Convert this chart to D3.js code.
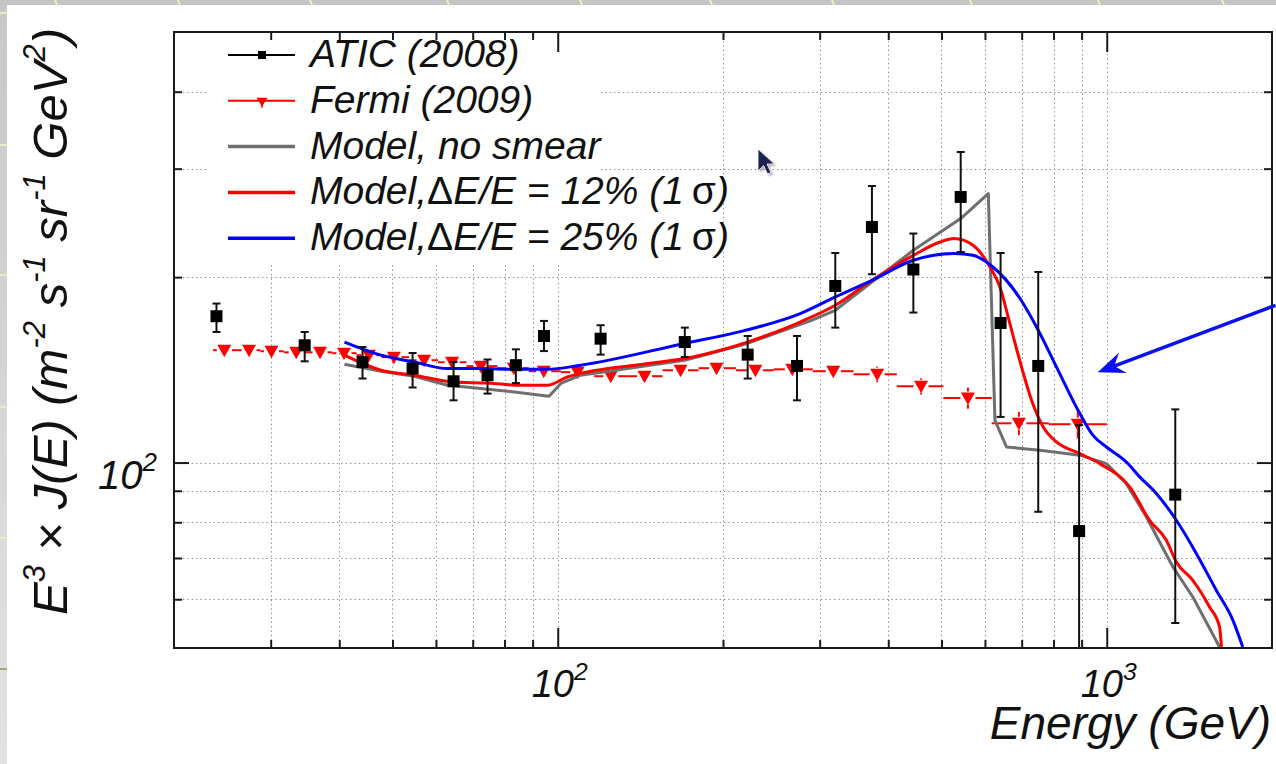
<!DOCTYPE html>
<html>
<head>
<meta charset="utf-8">
<script src="https://cdn.jsdelivr.net/npm/d3@7"></script>
<style>
  html, body { margin: 0; padding: 0; background: #c6c6c6; }
  svg { display: block; }
  text { font-family: "Liberation Sans", Arial, Helvetica, sans-serif; font-style: italic; fill: #111; }
</style>
</head>
<body>
<svg id="chart" width="1276" height="764"></svg>
<script>
// ATIC (2008): energy (GeV), E^3 J(E), error band low / high
var aticE  = [23.9, 34.6, 44.1, 54.4, 64.6, 74.5, 83.9, 94.4, 119.7, 170.4, 221.8, 272.8, 320.3, 373.5, 444.4, 542.0, 640.7, 750.3, 890.6, 1333];
var aticF  = [172.8, 155.0, 145.6, 142.1, 135.5, 138.6, 143.9, 160.5, 158.9, 156.9, 149.7, 143.5, 193.5, 241.2, 205.8, 269.9, 168.5, 143.5, 77.4, 88.7];
var aticHi = [181.2, 162.9, 154.0, 150.6, 145.6, 147.0, 152.7, 169.8, 167.1, 165.6, 160.5, 160.5, 218.9, 281.2, 235.4, 319.3, 218.9, 203.9, 115.0, 122.0];
var aticLo = [162.9, 146.0, 136.9, 132.4, 126.2, 129.4, 134.6, 151.7, 149.7, 148.4, 136.9, 126.2, 165.6, 202.2, 175.2, 219.7, 118.6, 83.2, 30.0, 54.9];

// Fermi (2009): bin centres, values, bin edges, errors
var fermiE = [24.7, 27.4, 30.1, 33.4, 36.9, 40.8, 45.3, 50.3, 57.1, 64.2, 72.4, 83.2, 94.3, 108.7, 124.9, 143.9, 167.4, 194.6, 229.1, 267.5, 317.6, 381.8, 459.0, 558.7, 691.8, 885.7];
var fermiF = [152.2, 152.2, 151.6, 151.0, 151.0, 150.5, 149.4, 148.3, 146.6, 145.5, 143.4, 142.3, 140.7, 140.2, 138.1, 138.1, 141.2, 142.3, 141.2, 141.7, 140.7, 139.1, 133.0, 127.3, 115.8, 115.4];
var fermiEdges = [23.56, 26.03, 28.73, 31.70, 35.12, 38.83, 43.01, 47.76, 53.60, 60.51, 68.18, 77.62, 88.57, 101.3, 116.5, 134.1, 155.2, 180.5, 211.1, 247.5, 291.4, 345.8, 414.6, 503.9, 617.1, 784.6, 1000];
var fermiErr = [2, 2, 2, 2, 2, 2, 2, 2, 2, 2, 2, 2, 2, 2, 2, 2, 2, 2, 2, 3, 3, 4, 4, 5, 5, 6];

// model curves
var noSmearE = [40.88, 47.67, 54.73, 63.03, 72.44, 83.27, 96.43, 101.3, 110.1, 170.2, 221.5, 288.4, 320.3, 373.5, 444.4, 542.0, 608.5, 625.7, 656.9, 755.6, 893.3, 998.9, 1086, 1181, 1320, 1435, 1605];
var noSmearF = [144.4, 140.7, 138.1, 133.5, 131.9, 130.2, 128.1, 134.4, 138.6, 146.6, 156.1, 169.8, 176.7, 196.4, 221.1, 248.9, 273.3, 117.1, 106.0, 104.7, 102.8, 99.6, 92.4, 81.6, 67.7, 60.5, 50.2];
var smear12E = [40.88, 47.67, 54.79, 64.6, 74.5, 85.66, 95.79, 104.1, 110.1, 147.6, 170.2, 197.9, 221.5, 276.5, 320.3, 373.5, 444.4, 497.0, 527.0, 570.6, 612.8, 638.9, 666.1, 699.6, 729.6, 766.1, 810.1, 893.3, 971.2, 1101, 1197, 1284, 1339, 1435, 1539, 1605, 1618];
var smear12F = [149.4, 141.2, 138.6, 135.1, 134.6, 133.5, 133.5, 137.7, 139.5, 144.9, 147.5, 152.2, 156.9, 169.1, 180.0, 197.6, 217.0, 228.1, 231.0, 225.3, 207.7, 192.8, 168.1, 142.9, 126.2, 114.2, 108.0, 103.4, 99.6, 91.3, 80.6, 74.8, 68.96, 64.4, 58.3, 54.1, 50.2];
var smear25E = [40.88, 47.67, 54.79, 63.03, 72.44, 83.27, 95.79, 110.1, 170.2, 217.8, 276.5, 320.3, 373.5, 444.4, 527.0, 570.6, 620.4, 694.7, 750.3, 810.1, 893.3, 944.3, 998.9, 1086, 1148, 1231, 1339, 1456, 1583, 1697, 1769];
var smear25F = [156.9, 149.4, 145.6, 142.1, 142.1, 141.7, 141.7, 143.9, 156.1, 163.6, 174.5, 185.7, 197.6, 213.0, 218.4, 217.0, 207.7, 184.8, 164.0, 142.9, 120.1, 110.7, 106.0, 100.2, 94.8, 89.1, 80.6, 71.2, 62.06, 55.5, 50.2];

// axes
var xMinorTicks = [30, 40, 50, 60, 70, 80, 90, 200, 300, 400, 500, 600, 700, 800, 900];
var xMajorTicks = [100, 1000];
var yMinorTicks = [60, 70, 80, 90, 200, 300, 400];
var yMajorTicks = [100];
var xLabels = [[100, '2'], [1000, '3']];
var yLabels = [[100, '2']];

var legendLabels = ['ATIC (2008)', 'Fermi (2009)', 'Model, no smear', 'Model,\u0394E/E = 12% (1\u2009\u03c3)', 'Model,\u0394E/E = 25% (1\u2009\u03c3)'];

// annotation arrow: tail and head in data units
var arrowTail = [2030, 180];
var arrowHead = [963, 140.2];

var W = 1276, H = 764;
var plot = { left: 174, right: 1272, top: 32, bottom: 648 };

var svg = d3.select('#chart');

var x = d3.scaleLog().domain([20, 2000]).range([plot.left, plot.right]);
var y = d3.scaleLog().domain([50, 500]).range([plot.bottom, plot.top]);

// slide background
var defs = svg.append('defs');
var grad = defs.append('linearGradient').attr('id', 'strip').attr('x1', 0).attr('y1', 0).attr('x2', 0).attr('y2', 1);
grad.append('stop').attr('offset', 0).attr('stop-color', '#c8c8c8');
grad.append('stop').attr('offset', 1).attr('stop-color', '#e2e2e2');
defs.append('clipPath').attr('id', 'plotclip').append('rect')
  .attr('x', plot.left).attr('y', plot.top)
  .attr('width', plot.right - plot.left).attr('height', plot.bottom - plot.top);
var blur = defs.append('filter').attr('id', 'soft').attr('x', -0.5).attr('y', -0.5).attr('width', 2).attr('height', 2);
blur.append('feGaussianBlur').attr('stdDeviation', 1.2);

svg.append('rect').attr('width', W).attr('height', H).attr('fill', '#c4c4c4');
svg.append('rect').attr('x', 0).attr('y', 5).attr('width', 7).attr('height', H - 5).attr('fill', 'url(#strip)');
[55, 178, 310, 447, 580, 710, 832, 970, 1098, 1222].forEach(function(px) {
  svg.append('line').attr('x1', px).attr('y1', 0).attr('x2', px + 2).attr('y2', 5)
     .attr('stroke', '#f2efc2').attr('stroke-width', 2);
});
[13, 145, 275, 407, 538].forEach(function(py) {
  svg.append('line').attr('x1', 0).attr('y1', py).attr('x2', 7).attr('y2', py)
     .attr('stroke', '#efebbb').attr('stroke-width', 2);
});
svg.append('line').attr('x1', 0).attr('y1', 669).attr('x2', 7).attr('y2', 669)
   .attr('stroke', '#a8a57a').attr('stroke-width', 2);
svg.append('rect').attr('x', 7).attr('y', 5).attr('width', W - 7).attr('height', H - 5).attr('fill', '#ffffff');

// grid
var grid = svg.append('g').attr('stroke', '#8c8c8c').attr('stroke-width', 1).attr('stroke-dasharray', '1.4,3');
grid.selectAll('.gx').data(xMinorTicks.concat(xMajorTicks)).enter().append('line')
  .attr('x1', function(d) { return Math.round(x(d)) + 0.5; })
  .attr('x2', function(d) { return Math.round(x(d)) + 0.5; })
  .attr('y1', plot.top).attr('y2', plot.bottom);
grid.selectAll('.gy').data(yMinorTicks.concat(yMajorTicks)).enter().append('line')
  .attr('y1', function(d) { return Math.round(y(d)) + 0.5; })
  .attr('y2', function(d) { return Math.round(y(d)) + 0.5; })
  .attr('x1', plot.left).attr('x2', plot.right);

// legend box hides the grid
svg.append('rect').attr('x', 208).attr('y', 34).attr('width', 392).attr('height', 229).attr('fill', '#ffffff');

// ticks
function tickAxis(axisFn, scale, values, size, transform) {
  var a = axisFn(scale).tickValues(values).tickSizeInner(size).tickSizeOuter(0).tickFormat('');
  var g = svg.append('g').attr('transform', transform).call(a);
  g.select('.domain').remove();
  g.selectAll('line').attr('stroke', '#1a1a1a').attr('stroke-width', 2);
}
tickAxis(d3.axisBottom, x, xMinorTicks, -8, 'translate(0,' + plot.bottom + ')');
tickAxis(d3.axisBottom, x, xMajorTicks, -20, 'translate(0,' + plot.bottom + ')');
tickAxis(d3.axisTop, x, xMinorTicks, -8, 'translate(0,' + plot.top + ')');
tickAxis(d3.axisTop, x, xMajorTicks, -20, 'translate(0,' + plot.top + ')');
tickAxis(d3.axisLeft, y, yMinorTicks, -8, 'translate(' + plot.left + ',0)');
tickAxis(d3.axisLeft, y, yMajorTicks, -15, 'translate(' + plot.left + ',0)');
tickAxis(d3.axisRight, y, yMinorTicks, -8, 'translate(' + plot.right + ',0)');
tickAxis(d3.axisRight, y, yMajorTicks, -15, 'translate(' + plot.right + ',0)');

// tick labels with superscript exponent
function powerLabel(px, py, anchor, exp, size) {
  var t = svg.append('text').attr('x', px).attr('y', py).attr('text-anchor', anchor).attr('font-size', size);
  t.append('tspan').text('10');
  t.append('tspan').attr('font-size', size * 0.65).attr('dy', -size * 0.45).text(exp);
}
xLabels.forEach(function(d) { powerLabel(x(d[0]) + 2, 697, 'middle', d[1], 38); });
yLabels.forEach(function(d) { powerLabel(157, y(d[0]) + 26, 'end', d[1], 40); });

// axis titles
svg.append('text').attr('x', 1271).attr('y', 739).attr('text-anchor', 'end')
   .attr('font-size', 46).text('Energy (GeV)');

var yt = svg.append('text').attr('transform', 'translate(67,28) rotate(-90)')
   .attr('text-anchor', 'end').attr('font-size', 49);
[['E', 0], ['3', 1], [' \u00d7 J(E) (m', 0], ['-2', 1], [' s', 0], ['-1', 1], [' sr', 0], ['-1', 1], [' GeV', 0], ['2', 1], [')', 0]]
  .forEach(function(p, i, arr) {
    var s = yt.append('tspan').text(p[0]);
    if (p[1]) s.attr('font-size', 31).attr('dy', -22);
    else if (i > 0 && arr[i - 1][1]) s.attr('dy', 22);
  });

// plot contents, clipped to the frame
var body = svg.append('g').attr('clip-path', 'url(#plotclip)');

// Fermi: horizontal bin bars with a gap at the marker
var fermi = d3.range(fermiE.length).map(function(i) {
  return { e: fermiE[i], f: fermiF[i], lo: fermiEdges[i], hi: fermiEdges[i + 1], err: fermiErr[i] };
});
var gapX = 7.5, gapY = 6.5;
var fg = body.append('g').attr('stroke', '#ff0000').attr('stroke-width', 2);
fermi.forEach(function(d) {
  var cx = x(d.e), cy = y(d.f);
  if (cx - gapX > x(d.lo)) fg.append('line').attr('x1', x(d.lo)).attr('x2', cx - gapX).attr('y1', cy).attr('y2', cy);
  if (x(d.hi) > cx + gapX) fg.append('line').attr('x1', cx + gapX).attr('x2', x(d.hi)).attr('y1', cy).attr('y2', cy);
  var top = y(d.f + d.err), bot = y(d.f - d.err);
  if (top < cy - gapY) fg.append('line').attr('x1', cx).attr('x2', cx).attr('y1', top).attr('y2', cy - gapY);
  if (bot > cy + gapY) fg.append('line').attr('x1', cx).attr('x2', cx).attr('y1', cy + gapY).attr('y2', bot);
});
body.selectAll('.fermi').data(fermi).enter().append('path')
  .attr('d', 'M-7,-5.5L7,-5.5L0,7Z')
  .attr('transform', function(d) { return 'translate(' + x(d.e) + ',' + y(d.f) + ')'; })
  .attr('fill', '#ff0000');

// models
var line = d3.line().x(function(d) { return x(d[0]); }).y(function(d) { return y(d[1]); });
body.append('path').datum(d3.zip(noSmearE, noSmearF))
  .attr('d', line.curve(d3.curveLinear)).attr('fill', 'none')
  .attr('stroke', '#6f6f6f').attr('stroke-width', 3).attr('stroke-linejoin', 'round');
body.append('path').datum(d3.zip(smear12E, smear12F))
  .attr('d', line.curve(d3.curveMonotoneX)).attr('fill', 'none')
  .attr('stroke', '#ff0000').attr('stroke-width', 3);
body.append('path').datum(d3.zip(smear25E, smear25F))
  .attr('d', line.curve(d3.curveMonotoneX)).attr('fill', 'none')
  .attr('stroke', '#0000ff').attr('stroke-width', 3);

// ATIC with capped error bars
var atic = d3.range(aticE.length).map(function(i) {
  return { e: aticE[i], f: aticF[i], lo: aticLo[i], hi: aticHi[i] };
});
var ag = body.append('g').attr('stroke', '#111').attr('stroke-width', 2);
atic.forEach(function(d) {
  var cx = x(d.e);
  ag.append('line').attr('x1', cx).attr('x2', cx).attr('y1', y(d.hi)).attr('y2', y(d.lo));
  ag.append('line').attr('x1', cx - 4).attr('x2', cx + 4).attr('y1', y(d.hi)).attr('y2', y(d.hi));
  ag.append('line').attr('x1', cx - 4).attr('x2', cx + 4).attr('y1', y(d.lo)).attr('y2', y(d.lo));
});
body.selectAll('.atic').data(atic).enter().append('rect')
  .attr('x', function(d) { return x(d.e) - 6; })
  .attr('y', function(d) { return y(d.f) - 6; })
  .attr('width', 12).attr('height', 12).attr('fill', '#000');

// frame
svg.append('rect').attr('x', plot.left).attr('y', plot.top)
   .attr('width', plot.right - plot.left).attr('height', plot.bottom - plot.top)
   .attr('fill', 'none').attr('stroke', '#1a1a1a').attr('stroke-width', 2);

// legend
var legendStyles = [
  { color: '#000', width: 2, marker: 'square' },
  { color: '#ff0000', width: 2, marker: 'tri' },
  { color: '#6f6f6f', width: 3.5, marker: null },
  { color: '#ff0000', width: 3.5, marker: null },
  { color: '#0000ff', width: 3.5, marker: null }
];
var lg = svg.append('g');
legendLabels.forEach(function(label, i) {
  var ry = 55 + i * 45.8, st = legendStyles[i];
  lg.append('line').attr('x1', 228).attr('x2', 295).attr('y1', ry).attr('y2', ry)
    .attr('stroke', st.color).attr('stroke-width', st.width);
  if (st.marker === 'square') {
    lg.append('rect').attr('x', 258).attr('y', ry - 4).attr('width', 8).attr('height', 8).attr('fill', st.color);
  } else if (st.marker === 'tri') {
    lg.append('path').attr('d', 'M-5.5,-4L5.5,-4L0,5Z').attr('fill', st.color)
      .attr('transform', 'translate(262,' + (ry + 1) + ')');
    lg.append('line').attr('x1', 262).attr('x2', 262).attr('y1', ry + 3).attr('y2', ry + 7)
      .attr('stroke', st.color).attr('stroke-width', 1.5);
  }
  var t = lg.append('text').attr('x', 310).attr('y', ry + 12).attr('font-size', 39);
  label.split(/([\u0394\u03c3])/).forEach(function(part) {
    if (!part) return;
    var s = t.append('tspan').text(part);
    if (/[\u0394\u03c3]/.test(part)) s.style('font-style', 'normal');
  });
});

// blue annotation arrow
var tx = x(arrowTail[0]), ty = y(arrowTail[1]), hx = x(arrowHead[0]), hy = y(arrowHead[1]);
var len = Math.hypot(hx - tx, hy - ty), ux = (hx - tx) / len, uy = (hy - ty) / len;
var nx = -uy, ny = ux, L = 27, Wd = 11;
svg.append('line').attr('x1', tx).attr('y1', ty).attr('x2', hx - ux * 16).attr('y2', hy - uy * 16)
   .attr('stroke', '#0a10f0').attr('stroke-width', 3.5);
svg.append('path').attr('fill', '#0a10f0').attr('d', 'M' + [
  [hx, hy],
  [hx - ux * L + nx * Wd, hy - uy * L + ny * Wd],
  [hx - ux * L * 0.65, hy - uy * L * 0.65],
  [hx - ux * L - nx * Wd, hy - uy * L - ny * Wd]
].map(function(p) { return p[0].toFixed(1) + ',' + p[1].toFixed(1); }).join('L') + 'Z');

// screen pointer left in the capture
var cur = svg.append('g').attr('transform', 'translate(758,149)');
cur.append('path').attr('d', 'M2,2L2,24L7.5,18.5L11.5,27L15,25.5L11,17L18.5,17Z')
   .attr('fill', '#000').attr('opacity', 0.35).attr('filter', 'url(#soft)');
cur.append('path').attr('d', 'M0,0L0,22L5.5,16.5L9.5,25L13,23.5L9,15L16.5,15Z')
   .attr('fill', '#1d2450').attr('stroke', '#ffffff').attr('stroke-width', 0.8);
</script>
</body>
</html>
